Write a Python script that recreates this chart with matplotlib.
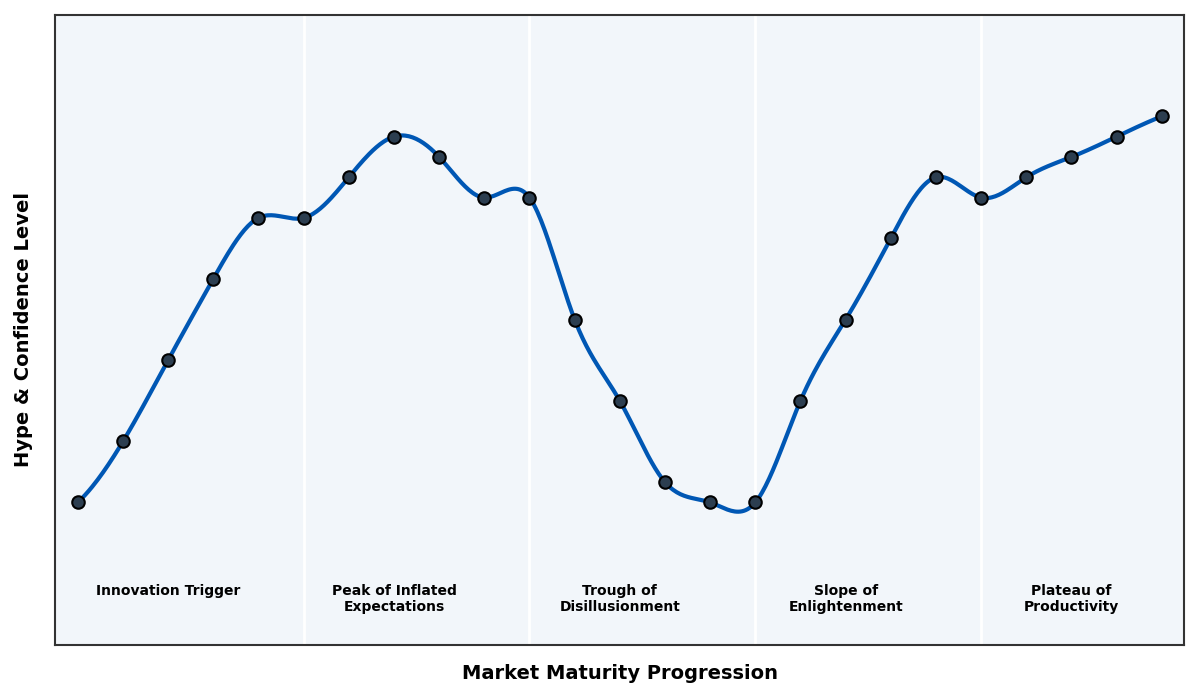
import matplotlib
matplotlib.use("Agg")
import matplotlib.pyplot as plt
import numpy as np

# data
steps = np.arange(25)
hype = [10, 25, 45, 65, 80, 80, 90, 100, 95, 85, 85, 55, 35, 15, 10,
        10, 35, 55, 75, 90, 85, 90, 95, 100, 105]
phase_names = ["Innovation Trigger", "Peak of Inflated\nExpectations",
               "Trough of\nDisillusionment", "Slope of\nEnlightenment",
               "Plateau of\nProductivity"]
phase_centers = [2, 7, 12, 17, 22]
phase_bounds = [5, 10, 15, 20]


def cubic_spline(x, y, xs):
    """not-a-knot cubic spline, uniform spacing"""
    x = np.asarray(x, float)
    y = np.asarray(y, float)
    n = len(x)
    h = x[1] - x[0]
    A = np.zeros((n, n))
    b = np.zeros(n)
    A[0, :3] = [1, -2, 1]
    A[-1, -3:] = [1, -2, 1]
    for i in range(1, n - 1):
        A[i, i - 1:i + 2] = [1, 4, 1]
        b[i] = 6 / h**2 * (y[i + 1] - 2 * y[i] + y[i - 1])
    M = np.linalg.solve(A, b)
    idx = np.clip(((xs - x[0]) // h).astype(int), 0, n - 2)
    t0 = xs - x[idx]
    t1 = x[idx + 1] - xs
    return (M[idx] * t1**3 / (6 * h) + M[idx + 1] * t0**3 / (6 * h)
            + (y[idx] / h - M[idx] * h / 6) * t1
            + (y[idx + 1] / h - M[idx + 1] * h / 6) * t0)


xs = np.linspace(steps[0], steps[-1], 600)
ys = cubic_spline(steps, hype, xs)

fig, ax = plt.subplots(figsize=(12, 7), dpi=100)
fig.subplots_adjust(left=0.046, right=0.987, top=0.979, bottom=0.079)
ax.set_facecolor("#f2f6fa")

for b in phase_bounds:
    ax.axvline(b, color="white", linewidth=2, zorder=1)

ax.plot(xs, ys, color="#0057b4", linewidth=3, zorder=2)
ax.plot(steps, hype, "o", markersize=9, markerfacecolor="#2c3e50",
        markeredgecolor="black", markeredgewidth=1.5, zorder=3)

for name, c in zip(phase_names, phase_centers):
    ax.text(c, -10, name, ha="center", va="top", fontsize=10,
            fontweight="bold", color="black")

ax.set_xlim(-0.5, 24.5)
ax.set_ylim(min(hype) - 35, max(hype) + 25)
ax.set_xticks([])
ax.set_yticks([])
for s in ax.spines.values():
    s.set_color("#333333")
    s.set_linewidth(1.5)

ax.set_xlabel("Market Maturity Progression", fontsize=14, fontweight="bold",
              labelpad=14)
ax.set_ylabel("Hype & Confidence Level", fontsize=14, fontweight="bold",
              labelpad=16)

fig.savefig("out.png", dpi=100)
